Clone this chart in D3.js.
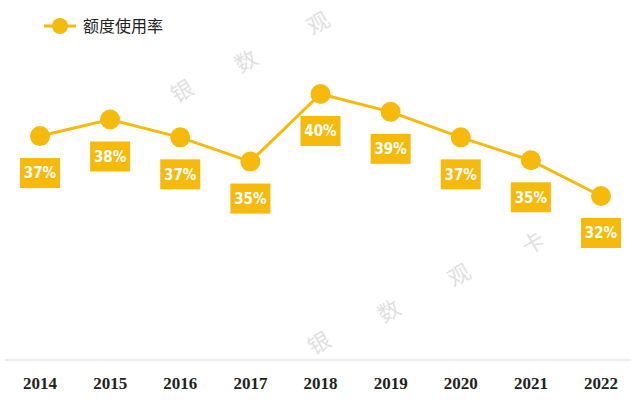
<!DOCTYPE html>
<html><head><meta charset="utf-8">
<script src="https://cdn.jsdelivr.net/npm/d3@7"></script>
<style>body{margin:0;background:#fff}</style></head>
<body><svg id="c" width="636" height="407"></svg>
<script>
const years = ["2014","2015","2016","2017","2018","2019","2020","2021","2022"];
const values = [36.7, 38.0, 36.6, 34.7, 40.0, 38.6, 36.6, 34.8, 32.0];
const labels = ["37%","38%","37%","35%","40%","39%","37%","35%","32%"];
const seriesName = "额度使用率";
const color = "#F5BA0C";
const svg = d3.select("#c");
const x = d3.scalePoint().domain(years).range([40,601]);
const y = d3.scaleLinear().domain([32,40]).range([196,94]);
const wm = [["银",186,98],["数",250,68],["观",322,30],["银",323,350],["数",393,318],["观",463,282],["卡",537,250]];
svg.selectAll(".wm").data(wm).join("text").attr("x",d=>d[1]).attr("y",d=>d[2])
  .attr("transform",d=>`rotate(-30,${d[1]},${d[2]})`).attr("text-anchor","middle")
  .attr("font-size",22).attr("fill","#e0e0e0").attr("font-family","Noto Sans CJK SC").text(d=>d[0]);
svg.append("line").attr("x1",5).attr("x2",631).attr("y1",360).attr("y2",360).attr("stroke","#d9d9d9");
svg.selectAll(".yr").data(years).join("text").attr("x",d=>x(d)).attr("y",389).attr("text-anchor","middle")
  .attr("font-family","Liberation Serif").attr("font-weight","bold").attr("font-size",17).attr("fill","#222").text(d=>d);
const line = d3.line().x((d,i)=>x(years[i])).y(d=>y(d));
svg.append("path").datum(values).attr("d",line).attr("fill","none").attr("stroke",color).attr("stroke-width",3);
svg.selectAll(".pt").data(values).join("circle").attr("cx",(d,i)=>x(years[i])).attr("cy",d=>y(d)).attr("r",10).attr("fill",color);
const g = svg.selectAll(".lb").data(values).join("g").attr("transform",(d,i)=>`translate(${x(years[i])},${y(d)+37})`);
g.append("rect").attr("x",-20).attr("y",-15).attr("width",40).attr("height",30).attr("fill",color);
g.append("text").attr("text-anchor","middle").attr("dy","0.36em").attr("fill","#fff").attr("font-weight","bold")
  .attr("font-size",15).attr("font-family","DejaVu Sans Condensed, DejaVu Sans").text((d,i)=>labels[i]);
svg.append("line").attr("x1",44).attr("x2",76).attr("y1",26).attr("y2",26).attr("stroke",color).attr("stroke-width",3);
svg.append("circle").attr("cx",60).attr("cy",26).attr("r",8).attr("fill",color);
svg.append("text").attr("x",83).attr("y",32).attr("font-size",16).attr("font-family","Noto Sans CJK SC").attr("fill","#222").text(seriesName);
</script></body></html>
